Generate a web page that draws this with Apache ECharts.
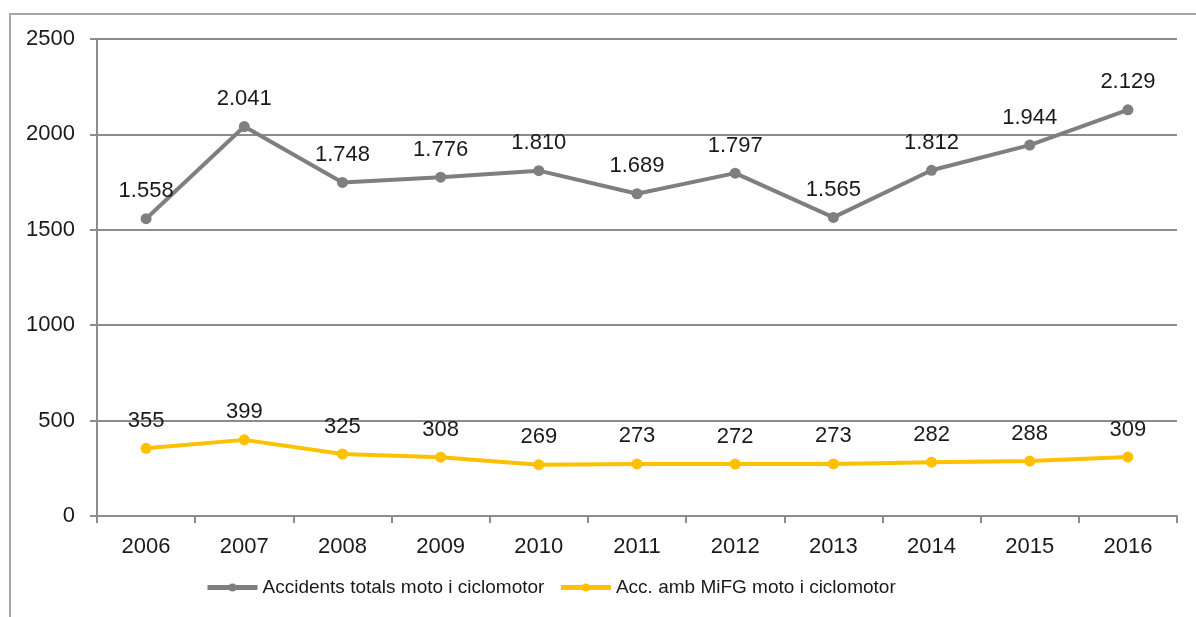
<!DOCTYPE html>
<html lang="ca">
<head>
    <meta charset="UTF-8">
    <title>Accidents moto i ciclomotor</title>
    <script src="https://cdn.jsdelivr.net/npm/echarts@6/dist/echarts.min.js"></script>
    <style>
        html, body { margin: 0; padding: 0; background: #fff; }
        #chart { width: 1196px; height: 617px; }
    </style>
</head>
<body>
<div id="chart"></div>
<script type="text/javascript">
    const years = ['2006', '2007', '2008', '2009', '2010', '2011', '2012', '2013', '2014', '2015', '2016'];
    const totals = [1558, 2041, 1748, 1776, 1810, 1689, 1797, 1565, 1812, 1944, 2129];
    const ambMiFG = [355, 399, 325, 308, 269, 273, 272, 273, 282, 288, 309];
    const series_names = ['Accidents totals moto i ciclomotor', 'Acc. amb MiFG moto i ciclomotor'];

    // thousands with a dot, like the original labels
    function fmt_dot(v) {
        return String(v).replace(/\B(?=(\d{3})+(?!\d))/g, '.');
    }

    const chart = echarts.init(document.getElementById('chart'));
    const font = 'Liberation Sans, Arial, sans-serif';

    function make_series(name, data, color) {
        return {
            name: name,
            type: 'line',
            data: data,
            symbol: 'circle',
            symbolSize: 11,
            lineStyle: { color: color, width: 4 },
            itemStyle: { color: color },
            label: {
                show: true,
                position: 'top',
                distance: 11,
                color: '#1a1a1a',
                fontFamily: font,
                fontSize: 22,
                formatter: (p) => fmt_dot(p.value)
            },
            animation: false
        };
    }

    chart.setOption({
        animation: false,
        graphic: [{
            type: 'rect',
            shape: { x: 10, y: 14, width: 1300, height: 700 },
            style: { fill: 'none', stroke: '#a6a6a6', lineWidth: 2 },
            silent: true
        }],
        grid: { left: 97, right: 19, top: 39, bottom: 101, containLabel: false },
        legend: {
            top: 573,
            left: 200,
            itemWidth: 50,
            itemHeight: 10,
            itemGap: 14,
            lineStyle: { width: 5 },
            textStyle: { fontFamily: font, fontSize: 19, color: '#1a1a1a' },
            data: series_names
        },
        xAxis: {
            type: 'category',
            data: years,
            boundaryGap: true,
            axisLine: { lineStyle: { color: '#8c8c8c', width: 2 } },
            axisTick: { show: true, length: 7, lineStyle: { color: '#8c8c8c', width: 2 } },
            axisLabel: { color: '#1a1a1a', fontFamily: font, fontSize: 22, margin: 20 }
        },
        yAxis: {
            type: 'value',
            min: 0,
            max: 2500,
            interval: 500,
            axisLine: { show: true, lineStyle: { color: '#8c8c8c', width: 2 } },
            axisTick: { show: true, length: 7, lineStyle: { color: '#8c8c8c', width: 2 } },
            axisLabel: { color: '#1a1a1a', fontFamily: font, fontSize: 22, margin: 22, formatter: (v) => String(v) },
            splitLine: { show: true, lineStyle: { color: '#8c8c8c', width: 2 } }
        },
        series: [
            make_series(series_names[0], totals, '#7f7f7f'),
            make_series(series_names[1], ambMiFG, '#ffc000')
        ]
    });
</script>
</body>
</html>
